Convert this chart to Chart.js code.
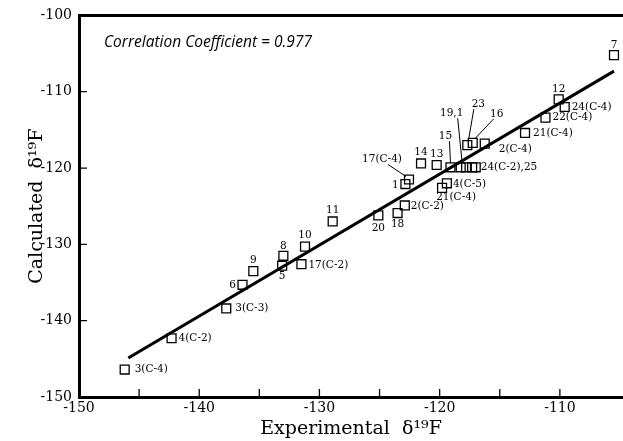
<!DOCTYPE html>
<html>
<head>
<meta charset="utf-8">
<script src="https://cdn.jsdelivr.net/npm/chart.js@4.4.0/dist/chart.umd.min.js"></script>
<style>
  html, body { margin: 0; padding: 0; background: #fff; overflow: hidden; }
  canvas { display: block; }
</style>
</head>
<body>
<canvas id="chart" width="623" height="441"></canvas>
<script>
// compound labels and shifts (ppm)
const compounds = ['7', '12', '24(C-4)', '22(C-4)', '21(C-4)', '2(C-4)', '16', '23', '15', '19,1', '', '',
  '24(C-2),25', '14', '13', '17(C-4)', '1', '4(C-5)', '21(C-4)', '2(C-2)', '18', '20', '11', '10',
  '17(C-2)', '8', '5', '9', '6', '3(C-3)', '4(C-2)', '3(C-4)'];
const experimental = [-105.5, -110.1, -109.6, -111.2, -112.9, -116.25, -117.25, -117.7, -119.1, -118.25, -117.8, -117.3,
  -117.0, -121.55, -120.25, -122.55, -122.85, -119.4, -119.8, -122.9, -123.5, -125.1, -128.9, -131.2,
  -131.5, -133.0, -133.1, -135.5, -136.4, -137.75, -142.3, -146.2];
const calculated = [-105.2, -111.0, -112.0, -113.4, -115.4, -116.8, -116.7, -117.0, -119.9, -119.9, -119.9, -119.9,
  -119.9, -119.4, -119.6, -121.5, -122.1, -122.0, -122.6, -124.9, -125.9, -126.2, -127.0, -130.3,
  -132.6, -131.5, -132.8, -133.5, -135.3, -138.4, -142.3, -146.4];

// least squares line end points
const fitX = [-145.9, -105.5];
const fitY = [-144.9, -107.3];

const xTicks = [-150, -140, -130, -120, -110];
const yTicks = [-100, -110, -120, -130, -140, -150];
const correlation = 'Correlation Coefficient = 0.977';

// where each label sits relative to its square (px), plus leader lines
const labelPos = [
  { dx: 0, dy: -10 }, { dx: 0, dy: -10 }, { dx: 7, dy: 0, al: 'left' }, { dx: 7, dy: 0, al: 'left' },
  { dx: 8, dy: 0, al: 'left' }, { dx: 14, dy: 6, al: 'left' },
  { dx: 24, dy: -29, lead: [21, -24, 2, -4] },
  { dx: 11, dy: -41, lead: [6.5, -36, 1, -4] },
  { dx: -5, dy: -31, lead: [-1, -26, 0, -4] },
  { dx: -9, dy: -54, lead: [-3, -49, 1.5, -4] },
  null, null,
  { dx: 5, dy: 0, al: 'left' },
  { dx: 0, dy: -11 }, { dx: 0, dy: -11 },
  { dx: -27, dy: -20, lead: [-21, -15, -3, -3] },
  { dx: -10, dy: 1 }, { dx: 6, dy: 1, al: 'left' }, { dx: 14, dy: 9.5 }, { dx: 6, dy: 1, al: 'left' },
  { dx: 0, dy: 11.5 }, { dx: 0, dy: 13 }, { dx: 0, dy: -11 }, { dx: 0, dy: -11 },
  { dx: 7, dy: 1, al: 'left' }, { dx: 0, dy: -10 }, { dx: 0, dy: 11 }, { dx: 0, dy: -11 },
  { dx: -10, dy: 0 }, { dx: 9, dy: 0, al: 'left' }, { dx: 7, dy: 0, al: 'left' }, { dx: 10, dy: 0, al: 'left' }
];

const serif = "'DejaVu Serif', 'Liberation Serif', serif";

const annotate = {
  id: 'annotate',
  afterDraw(chart) {
    const { ctx, chartArea: a, scales: { x, y } } = chart;
    ctx.save();
    ctx.strokeStyle = '#000';
    ctx.fillStyle = '#000';

    // inward tick marks
    ctx.lineWidth = 1.3;
    ctx.beginPath();
    x.ticks.forEach(t => {
      if (t.value % 5 !== 0 || t.value === -150) return;
      const px = x.getPixelForValue(t.value);
      ctx.moveTo(px, a.bottom);
      ctx.lineTo(px, a.bottom - 8);
    });
    y.ticks.forEach(t => {
      if (t.value === -150 || t.value === -100) return;
      const py = y.getPixelForValue(t.value);
      ctx.moveTo(a.left, py);
      ctx.lineTo(a.left + 8, py);
    });
    ctx.stroke();

    // top frame line
    ctx.lineWidth = 3;
    ctx.beginPath();
    ctx.moveTo(a.left, a.top);
    ctx.lineTo(a.right, a.top);
    ctx.stroke();

    // point labels
    ctx.font = '10.5px ' + serif;
    ctx.textBaseline = 'middle';
    ctx.lineWidth = 1;
    const meta = chart.getDatasetMeta(0);
    meta.data.forEach((pt, i) => {
      const p = labelPos[i];
      if (!p || !compounds[i]) return;
      ctx.textAlign = p.al || 'center';
      ctx.fillText(compounds[i], pt.x + p.dx, pt.y + p.dy);
      if (p.lead) {
        ctx.beginPath();
        ctx.moveTo(pt.x + p.lead[0], pt.y + p.lead[1]);
        ctx.lineTo(pt.x + p.lead[2], pt.y + p.lead[3]);
        ctx.stroke();
      }
    });

    ctx.font = "italic 15.5px 'Open Sans', 'DejaVu Sans', sans-serif";
    ctx.textAlign = 'left';
    ctx.fillText(correlation, a.left + 25, a.top + 27);
    ctx.restore();
  }
};

new Chart(document.getElementById('chart'), {
  type: 'scatter',
  data: {
    datasets: [
      {
        data: experimental.map((v, i) => ({ x: v, y: calculated[i] })),
        pointStyle: 'rect',
        pointRadius: 6.3,
        pointBorderWidth: 1.3,
        pointBorderColor: '#000',
        pointBackgroundColor: 'rgba(0,0,0,0)',
        clip: false
      },
      {
        type: 'line',
        data: fitX.map((v, i) => ({ x: v, y: fitY[i] })),
        borderColor: '#000',
        borderWidth: 3,
        pointRadius: 0,
        fill: false
      }
    ]
  },
  plugins: [annotate],
  options: {
    responsive: false,
    animation: false,
    devicePixelRatio: 1,
    layout: { autoPadding: false, padding: { top: 15, left: 0, right: 0, bottom: 0 } },
    plugins: { legend: { display: false }, tooltip: { enabled: false } },
    scales: {
      x: {
        type: 'linear',
        min: -150,
        max: -104.75,
        afterFit: s => { s.height = 44; s.paddingLeft = 0; s.paddingRight = 0; },
        border: { display: true, color: '#000', width: 3 },
        grid: { display: true, drawOnChartArea: false, drawTicks: false },
        ticks: {
          stepSize: 5,
          autoSkip: false,
          maxRotation: 0,
          padding: 3,
          color: '#000',
          font: { family: serif, size: 14 },
          callback: v => xTicks.includes(v) ? String(v) : ''
        },
        title: {
          display: true,
          text: 'Experimental  δ¹⁹F',
          color: '#000',
          font: { family: serif, size: 19 },
          padding: { top: 0, bottom: 1 }
        }
      },
      y: {
        type: 'linear',
        min: -150,
        max: -100,
        afterFit: s => { s.width = 79; },
        border: { display: true, color: '#000', width: 3 },
        grid: { display: true, drawOnChartArea: false, drawTicks: false },
        ticks: {
          stepSize: 10,
          padding: 7,
          color: '#000',
          font: { family: serif, size: 14 },
          callback: v => yTicks.includes(v) ? String(v) : ''
        },
        title: {
          display: true,
          text: 'Calculated  δ¹⁹F',
          color: '#000',
          font: { family: serif, size: 19 },
          padding: { top: 26, bottom: 0 }
        }
      }
    }
  }
});
</script>
</body>
</html>
